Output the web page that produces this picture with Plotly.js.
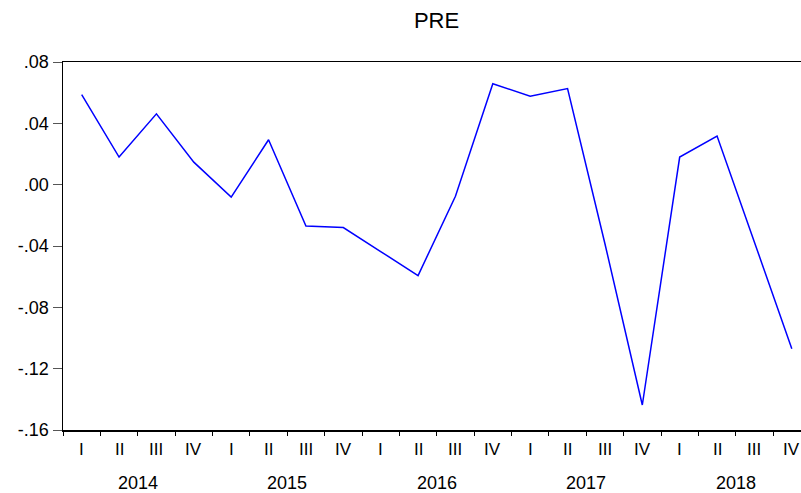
<!DOCTYPE html>
<html>
<head>
<meta charset="utf-8">
<script src="https://cdn.plot.ly/plotly-3.0.1.min.js"></script>
<style>
  html, body { margin: 0; padding: 0; background: #fff; overflow: hidden; }
  #chart { width: 801px; height: 493px; }
</style>
</head>
<body>
<div id="chart"></div>
<script>
// ---- data ----
const years = ['2014', '2015', '2016', '2017', '2018'];
const quarterLabels = ['I', 'II', 'III', 'IV'];
const pre = [
  0.0588, 0.0180, 0.0462, 0.0147,
  -0.0081, 0.0293, -0.0270, -0.0280,
  -0.0436, -0.0593, -0.0076, 0.0658,
  0.0577, 0.0627, -0.0385, -0.1437,
  0.0180, 0.0317, -0.0375, -0.1070
];
const yTickVals = [0.08, 0.04, 0.00, -0.04, -0.08, -0.12, -0.16];
const yTickText = ['.08', '.04', '.00', '-.04', '-.08', '-.12', '-.16'];

// ---- derived positions (quarter index) ----
const xIdx = pre.map((_, i) => i);
const quarterBounds = [];
for (let i = 0; i <= pre.length; i++) quarterBounds.push(i - 0.5);
const yearBounds = years.map((_, k) => k * 4 - 0.5).concat([years.length * 4 - 0.5]);
const yearCenters = years.map((_, k) => k * 4 + 1.5);

const FONT = 'Liberation Sans, Arial, sans-serif';

const annotations = [];
xIdx.forEach(i => {
  annotations.push({
    xref: 'x', yref: 'paper', x: i, y: 0,
    text: quarterLabels[i % 4], showarrow: false,
    yanchor: 'middle', xanchor: 'center', yshift: -19,
    font: { family: FONT, size: 17, color: '#000' }
  });
});
years.forEach((yr, k) => {
  annotations.push({
    xref: 'x', yref: 'paper', x: yearCenters[k], y: 0,
    text: yr, showarrow: false,
    yanchor: 'middle', xanchor: 'center', yshift: -53,
    font: { family: FONT, size: 18, color: '#000' }
  });
});

const trace = {
  x: xIdx, y: pre, type: 'scatter', mode: 'lines',
  line: { color: '#0000FF', width: 1.5 },
  hoverinfo: 'skip'
};

const layout = {
  width: 801, height: 493,
  margin: { l: 63, r: 0, t: 62, b: 63 },
  paper_bgcolor: '#fff', plot_bgcolor: '#fff',
  showlegend: false,
  title: {
    text: 'PRE', x: 436.5 / 801, xref: 'container', xanchor: 'center',
    y: 1 - 20 / 493, yref: 'container', yanchor: 'middle',
    font: { family: FONT, size: 22, color: '#000' }
  },
  xaxis: {
    range: [-0.5, -0.5 + (801 - 63) / 37.375],
    showgrid: false, zeroline: false,
    showline: true, linecolor: '#000', linewidth: 1.5, mirror: true,
    tickmode: 'array', tickvals: yearBounds, ticktext: yearBounds.map(() => ''),
    ticks: 'outside', ticklen: 8, tickwidth: 1, tickcolor: '#000',
    showticklabels: false,
    minor: { tickmode: 'array', tickvals: quarterBounds, ticks: 'outside', ticklen: 4, tickwidth: 1, tickcolor: '#000', showgrid: false },
    fixedrange: true
  },
  yaxis: {
    range: [-0.16, 0.08],
    showgrid: false, zeroline: false,
    showline: true, linecolor: '#000', linewidth: 1.5, mirror: false,
    tickmode: 'array', tickvals: yTickVals, ticktext: yTickText,
    ticks: 'outside', ticklen: 9, tickwidth: 1, tickcolor: '#555',
    tickfont: { family: FONT, size: 18, color: '#000' },
    fixedrange: true
  },
  annotations: annotations
};

Plotly.newPlot('chart', [trace], layout, { displayModeBar: false, staticPlot: true });
</script>
</body>
</html>
